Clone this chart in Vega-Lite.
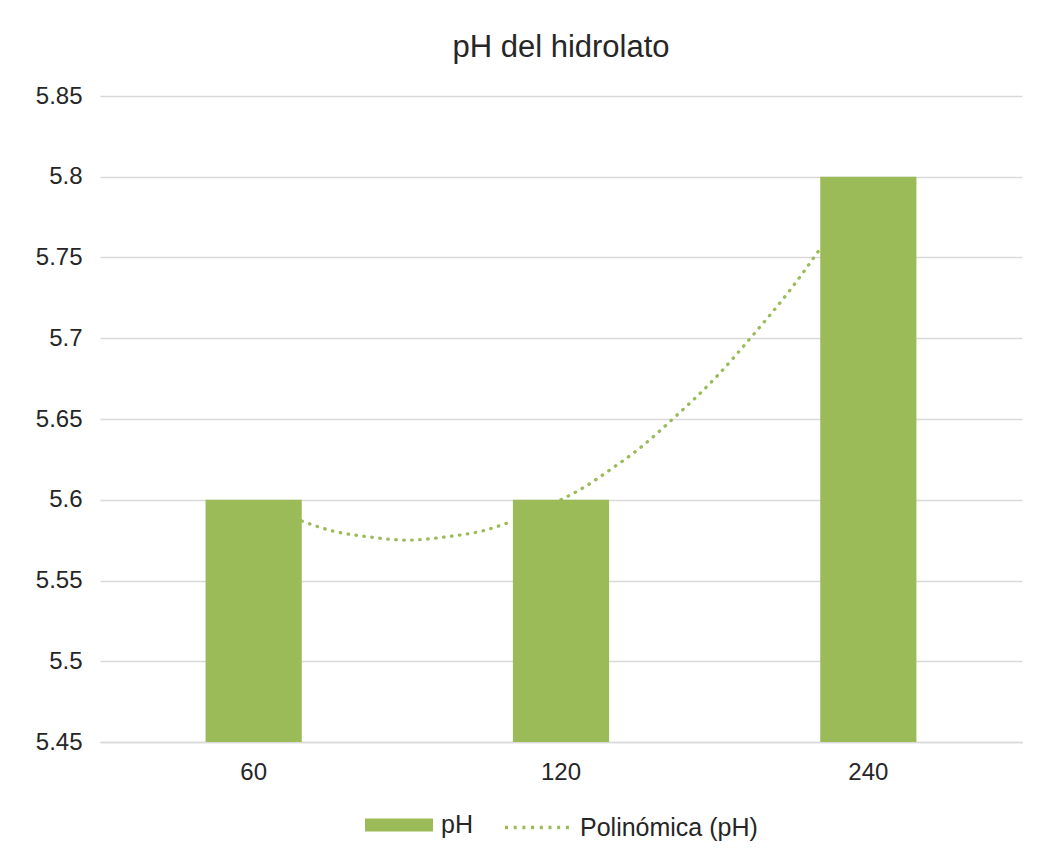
{
  "$schema": "https://vega.github.io/schema/vega-lite/v6.json",
  "width": 922,
  "height": 646,
  "autosize": {"type": "none"},
  "padding": {"left": 100, "top": 96, "right": 20, "bottom": 120},
  "background": "white",
  "title": {
    "text": "pH del hidrolato",
    "font": "Liberation Sans",
    "fontSize": 31,
    "fontWeight": "normal",
    "color": "#262626",
    "anchor": "middle",
    "offset": 20
  },
  "datasets": {
    "bars": [
      {"tiempo": "60", "pH": 5.6},
      {"tiempo": "120", "pH": 5.6},
      {"tiempo": "240", "pH": 5.8}
    ],
    "trend": [
      {"seg": "a", "pos": 1.157, "pH": 5.5868},
      {"seg": "a", "pos": 1.25, "pH": 5.581},
      {"seg": "a", "pos": 1.375, "pH": 5.577},
      {"seg": "a", "pos": 1.5, "pH": 5.575},
      {"seg": "a", "pos": 1.625, "pH": 5.577},
      {"seg": "a", "pos": 1.75, "pH": 5.581},
      {"seg": "a", "pos": 1.843, "pH": 5.5868},
      {"seg": "b", "pos": 2.0, "pH": 5.6},
      {"seg": "b", "pos": 2.08, "pH": 5.6083},
      {"seg": "b", "pos": 2.157, "pH": 5.6182},
      {"seg": "b", "pos": 2.25, "pH": 5.631},
      {"seg": "b", "pos": 2.375, "pH": 5.652},
      {"seg": "b", "pos": 2.5, "pH": 5.675},
      {"seg": "b", "pos": 2.625, "pH": 5.702},
      {"seg": "b", "pos": 2.75, "pH": 5.731},
      {"seg": "b", "pos": 2.843, "pH": 5.7554}
    ]
  },
  "layer": [
    {
      "data": {"name": "bars"},
      "mark": {"type": "bar"},
      "encoding": {
        "x": {
          "field": "tiempo",
          "type": "nominal",
          "sort": null,
          "scale": {"paddingInner": 0.687, "paddingOuter": 0.3435},
          "axis": {
            "title": null,
            "labelAngle": 0,
            "labelFont": "Liberation Sans",
            "labelFontSize": 24,
            "labelColor": "#262626",
            "labelPadding": 18,
            "ticks": false,
            "domain": true,
            "domainColor": "#D9D9D9",
            "domainWidth": 1.3,
            "grid": false
          }
        },
        "y": {
          "field": "pH",
          "type": "quantitative",
          "scale": {"domain": [5.45, 5.85], "zero": false, "nice": false},
          "axis": {
            "title": null,
            "values": [5.45, 5.5, 5.55, 5.6, 5.65, 5.7, 5.75, 5.8, 5.85],
            "format": "~g",
            "labelFont": "Liberation Sans",
            "labelFontSize": 24,
            "labelColor": "#262626",
            "labelPadding": 18,
            "ticks": false,
            "domain": false,
            "grid": true,
            "gridColor": "#D9D9D9",
            "gridWidth": 1.3
          }
        },
        "y2": {"datum": 5.45},
        "fill": {
          "datum": "pH",
          "type": "nominal",
          "scale": {"range": ["#9BBB59"]},
          "legend": {
            "title": null,
            "orient": "bottom",
            "symbolType": "M-1,-0.19H1V0.19H-1Z",
            "symbolSize": 4624,
            "symbolStrokeWidth": 0,
            "labelFont": "Liberation Sans",
            "labelFontSize": 25,
            "labelColor": "#262626",
            "labelOffset": 8
          }
        }
      }
    },
    {
      "data": {"name": "trend"},
      "mark": {"type": "line", "strokeWidth": 3.3, "strokeDash": [0.5, 7.5], "strokeCap": "round", "interpolate": "monotone"},
      "encoding": {
        "x": {"field": "pos", "type": "quantitative", "scale": {"domain": [0.5, 3.5], "nice": false, "zero": false}, "axis": null},
        "y": {"field": "pH", "type": "quantitative"},
        "detail": {"field": "seg", "type": "nominal"},
        "stroke": {
          "datum": "Polinómica (pH)",
          "type": "nominal",
          "scale": {"range": ["#9BBB59"]},
          "legend": {
            "title": null,
            "orient": "bottom",
            "symbolType": "stroke",
            "symbolSize": 4761,
            "symbolStrokeWidth": 3.3,
            "symbolDash": [3, 5.7],
            "labelFont": "Liberation Sans",
            "labelFontSize": 25,
            "labelColor": "#262626",
            "labelOffset": 4,
            "labelLimit": 400
          }
        }
      }
    }
  ],
  "resolve": {"scale": {"x": "independent"}},
  "config": {
    "view": {"stroke": null},
    "legend": {"offset": 7, "layout": {"bottom": {"anchor": "middle", "margin": 30}}}
  }
}
